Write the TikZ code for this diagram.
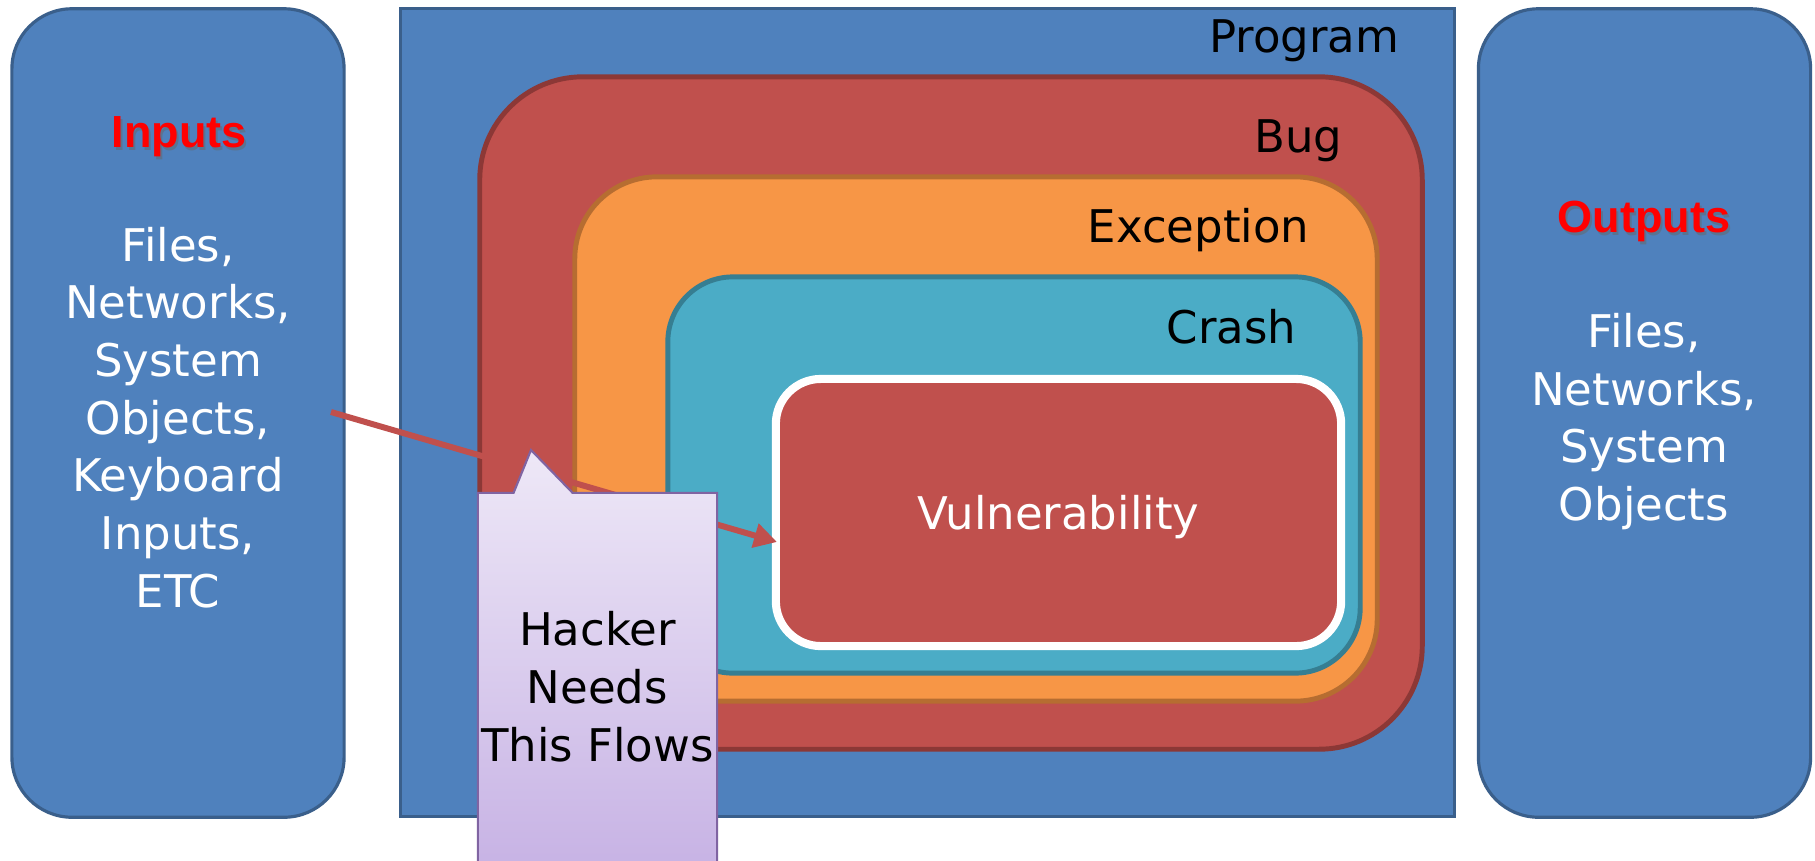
\documentclass[tikz,border=0pt]{standalone}
\usepackage{fontspec}
\setmainfont{DejaVu Sans}
\newfontfamily\titlefont{Liberation Sans}
\usetikzlibrary{arrows.meta,shapes.callouts}

\definecolor{progblue}{HTML}{4F81BD}
\definecolor{progedge}{HTML}{3A5F8B}
\definecolor{bugred}{HTML}{C0504D}
\definecolor{bugedge}{HTML}{8C3836}
\definecolor{excorange}{HTML}{F79646}
\definecolor{excedge}{HTML}{B66D31}
\definecolor{crashteal}{HTML}{4BACC6}
\definecolor{crashedge}{HTML}{367E92}
\definecolor{calltop}{HTML}{EEE8F7}
\definecolor{callbot}{HTML}{C6B1E4}
\definecolor{calledge}{HTML}{8064A2}

\begin{document}
\begin{tikzpicture}[x=0.01cm,y=-0.01cm,
  box/.style={draw, rectangle, inner sep=0pt, outer sep=0pt},
  sidebox/.style={box, fill=progblue, draw=progedge, line width=0.9pt, rounded corners=0.6cm, minimum width=3.32cm, minimum height=8.08cm},
  lbl/.style={font=\fontsize{12.8}{16.4}\selectfont, inner sep=0pt},
  title/.style={font=\titlefont\bfseries\fontsize{12.8}{16}\selectfont, inner sep=0pt, anchor=base},
  flow/.style={draw=bugred, line width=1.7pt, -{Triangle[length=6.5pt,width=6.8pt]}}]
\clip (0,0) rectangle (1815,860);
\fill[white] (0,0) rectangle (1815,860);

% inputs and outputs
\node[sidebox] (inputs) at (178,413) {};
\node[sidebox] (outputs) at (1644.5,413) {};
\node[title, text=black!60, opacity=0.5] (inputsshadow) at (181,150) {Inputs};
\node[title, text=red] (inputstitle) at (179,147) {Inputs};
\node[lbl, text=white, align=center] (inputslist) at (178,417.5) {Files,\\Networks,\\System\\Objects,\\Keyboard\\Inputs,\\ETC};
\node[title, text=black!60, opacity=0.5] (outputsshadow) at (1646,235) {Outputs};
\node[title, text=red] (outputstitle) at (1644,232) {Outputs};
\node[lbl, text=white, align=center] (outputslist) at (1644,421.5) {Files,\\Networks,\\System\\Objects};

% program with its nested regions
\node[box, fill=progblue, draw=progedge, line width=0.9pt, minimum width=10.53cm, minimum height=8.07cm] (program) at (927.5,412.5) {};
\node[lbl, anchor=base east] (programlbl) at (1400,52) {Program};
\node[box, fill=bugred, draw=bugedge, line width=1.4pt, rounded corners=1.03cm, minimum width=9.42cm, minimum height=6.72cm] (bug) at (951,413) {};
\node[lbl, anchor=base east] (buglbl) at (1343,152) {Bug};
\node[box, fill=excorange, draw=excedge, line width=1.4pt, rounded corners=0.82cm, minimum width=8.02cm, minimum height=5.24cm] (exception) at (976,439) {};
\node[lbl, anchor=base east] (exceptionlbl) at (1310,242) {Exception};
\node[box, fill=crashteal, draw=crashedge, line width=1.4pt, rounded corners=0.65cm, minimum width=6.92cm, minimum height=3.96cm] (crash) at (1014,475) {};
\node[lbl, anchor=base east] (crashlbl) at (1297,343) {Crash};
\node[box, fill=bugred, draw=white, line width=2.3pt, rounded corners=0.45cm, minimum width=5.65cm, minimum height=2.67cm, lbl, text=white, text depth=0pt] (vuln) at (1058.5,512.5) {Vulnerability};

% the flow into the vulnerability
\coordinate (flowstart) at (331,412);
\coordinate (flowtip) at (777,542);
\draw[flow] (flowstart) -- (flowtip);

\node[rectangle callout, callout absolute pointer={(531,450)}, callout pointer width=0.59cm,
  minimum width=2.39cm, minimum height=3.87cm, inner sep=0pt, top color=calltop, bottom color=callbot,
  draw=calledge, line width=0.6pt, lbl, align=center, text depth=0pt] (hacker) at (597.5,686.5) {Hacker\\Needs\\This Flows};
\end{tikzpicture}
\end{document}
